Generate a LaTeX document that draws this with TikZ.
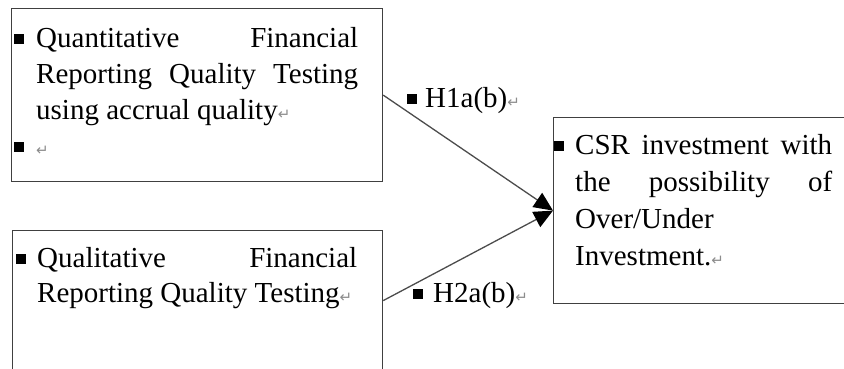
\documentclass[tikz,border=0pt]{standalone}
\usepackage{fontspec}
\usepackage{xcolor}
\usepackage{tikz}
\usetikzlibrary{arrows.meta}
\setmainfont{Liberation Serif}
\newfontfamily\symfont{DejaVu Sans}

\newcommand\sqbul[1]{\makebox[#1][l]{\rule[3pt]{10pt}{10pt}}}
\newcommand\retmark{{\symfont\fontsize{15}{15}\selectfont\color{black!45}↵}}

\tikzset{
	box/.style={draw=black!75, line width=1.2pt, rectangle, inner sep=0pt},
	boxtext/.style={anchor=base west, inner sep=0pt, align=justify, font=\fontsize{29}{36}\selectfont},
	lbl/.style={anchor=base west, inner sep=0pt, font=\fontsize{29}{36}\selectfont},
	link/.style={draw=black!70, line width=1.3pt, -{Triangle[length=19pt,width=17pt,color=black]}}
}

\begin{document}
\begin{tikzpicture}[x=1pt,y=-1pt]
		\useasboundingbox (0,0) rectangle (844,368);
		
		% boxes
		\node[box, minimum width=371pt, minimum height=173pt, anchor=north west] (quant) at (11,8) {};
		\node[box, minimum width=370pt, minimum height=140pt, anchor=north west] (qual) at (12,230) {};
		\node[box, minimum width=295pt, minimum height=186pt, anchor=north west] (csr) at (553,117) {};
		
		% texts
		\node[boxtext, text width=344pt] (quanttext) at (14,47) {\noindent\hangindent=22pt\hangafter=1\sqbul{22pt}Quantitative Financial\linebreak Reporting Quality Testing\linebreak using accrual quality\retmark\par
			\noindent\sqbul{22pt}\retmark\par};
		\node[boxtext, text width=341pt, font=\fontsize{29}{35}\selectfont] (qualtext) at (16,267) {\noindent\hangindent=21pt\hangafter=1\sqbul{21pt}Qualitative Financial\linebreak Reporting Quality Testing\retmark\par};
		\node[boxtext, text width=278pt, font=\fontsize{29}{37}\selectfont] (csrtext) at (554,154) {\noindent\hangindent=21pt\hangafter=1\sqbul{21pt}CSR investment with\linebreak the possibility of\linebreak Over/Under\newline Investment.\retmark\par};
		
		% links
		\draw[link] (quant.east) -- (csr.west);
		\draw[link] (qual.east) -- (csr.west);
		
		\node[lbl] (hone) at (407,107) {\sqbul{18pt}H1a(b)\retmark};
		\node[lbl] (htwo) at (413,302) {\sqbul{20pt}H2a(b)\retmark};
	\end{tikzpicture}
\end{document}
